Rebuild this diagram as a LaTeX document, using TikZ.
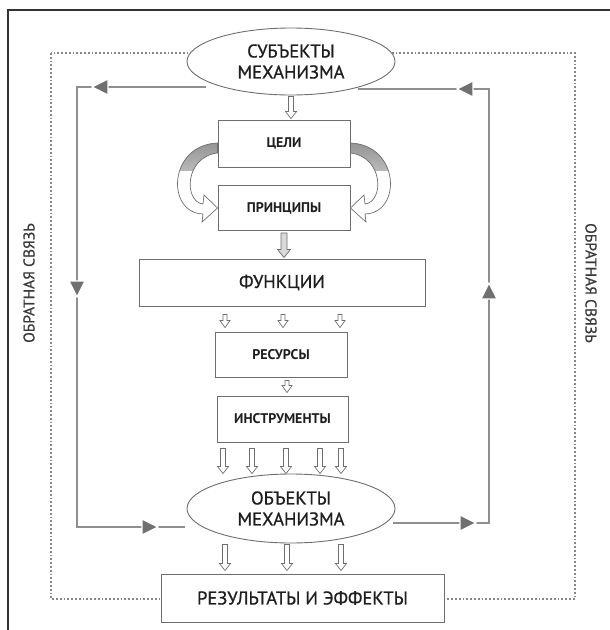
\documentclass[tikz,border=0pt]{standalone}
\usepackage{fontspec}
\setmainfont{PT Sans}
\newfontfamily\medfont{PT Sans}[FakeBold=0.8]
\usetikzlibrary{calc,shapes.geometric}
\definecolor{boxline}{HTML}{6E6E6E}
\definecolor{fbline}{HTML}{8E8E8E}
\definecolor{fbhead}{HTML}{707070}
\definecolor{txt}{HTML}{1E1E1E}
\definecolor{sidetxt}{HTML}{3A3A3A}
\definecolor{dotc}{HTML}{878787}
\definecolor{framec}{HTML}{333333}
\begin{document}
\begin{tikzpicture}[x=1pt,y=-1pt,
  every node/.style={text=txt},
  box/.style={draw=boxline, line width=0.9pt, fill=white, inner sep=0pt},
  smalllbl/.style={font=\fontsize{14}{16}\selectfont\bfseries},
  biglbl/.style={font=\fontsize{18.5}{21}\selectfont\medfont},
  oval/.style={ellipse, draw=boxline, line width=0.9pt, fill=white, inner sep=0pt,
    minimum width=208pt, minimum height=67pt, align=center,
    font=\fontsize{18.5}{21}\selectfont\medfont},
  sidelbl/.style={text=sidetxt, font=\fontsize{15.5}{17}\selectfont\medfont},
  fb/.style={draw=fbline, line width=1.1pt},
  holl/.style={draw=boxline, line width=0.7pt, fill=white},
  ba/.style n args={3}{to path={let \p1=(\tikztostart), \p2=(\tikztotarget) in
    (\x1-#1,\y1) -- (\x1-#1,\y2+#3) -- (\x1-#2,\y2+#3) -- (\x1,\y2)
    -- (\x1+#2,\y2+#3) -- (\x1+#1,\y2+#3) -- (\x1+#1,\y1) -- cycle}},
  fbtri/.style={fill=fbhead, draw=white, line width=1.2pt}
]
\useasboundingbox (0,0) rectangle (610,630);
% page frame
\draw[framec, line width=1.2pt] (8,630) -- (8,10) -- (610,10);
% dotted frame
\draw[dotc, line width=1.8pt, dash pattern=on 1.8pt off 2pt] (51,53) rectangle (575,599);

% nodes
\node[oval] (top) at (291,61.5) {СУБЪЕКТЫ\\МЕХАНИЗМА};
\node[box, smalllbl, minimum width=132pt, minimum height=47pt] (celi) at (284,143.5) {ЦЕЛИ};
\node[box, smalllbl, minimum width=132pt, minimum height=45pt] (princ) at (284,208) {ПРИНЦИПЫ};
\node[box, biglbl, minimum width=286pt, minimum height=47pt] (func) at (282,282.5) {ФУНКЦИИ};
\node[box, smalllbl, minimum width=132pt, minimum height=45pt] (res) at (281,354.5) {РЕСУРСЫ};
\node[box, smalllbl, minimum width=131pt, minimum height=46pt] (instr) at (282.5,419) {ИНСТРУМЕНТЫ};
\node[oval, minimum height=69pt] (obj) at (291,508.5) {ОБЪЕКТЫ\\МЕХАНИЗМА};
\node[box, biglbl, minimum width=283pt, minimum height=48pt] (resl) at (302.5,598) {РЕЗУЛЬТАТЫ И ЭФФЕКТЫ};

\node[sidelbl, rotate=90] (fbl) at (29,283) {ОБРАТНАЯ СВЯЗЬ};
\node[sidelbl, rotate=-90] (fbr) at (591,283) {ОБРАТНАЯ СВЯЗЬ};

% curved arrows ЦЕЛИ -> ПРИНЦИПЫ
\def\leftcurve{(celi.west |- 0,143) .. controls (168,145) and (166,213) .. (203,214)
  -- (202,222) -- (princ.west |- 0,208) -- (204,195) -- (203,204)
  .. controls (184,202) and (184,157) .. (celi.west |- 0,153) -- cycle}
\def\rightcurve{(celi.east |- 0,143) .. controls (400,145) and (402,213) .. (365,214)
  -- (366,222) -- (princ.east |- 0,208) -- (364,195) -- (365,204)
  .. controls (384,202) and (384,157) .. (celi.east |- 0,153) -- cycle}
\fill[white] \leftcurve;
\fill[white] \rightcurve;
\begin{scope}
  \clip (0,140) rectangle (610,170);
  \shade[top color=black!42, bottom color=white] \leftcurve;
  \shade[top color=black!42, bottom color=white] \rightcurve;
\end{scope}
\draw[boxline, line width=0.7pt] \leftcurve;
\draw[boxline, line width=0.7pt] \rightcurve;

% block arrows
\draw[holl, ba={2.5pt}{5.5pt}{7pt}] ($(top.south)+(0,1)$) to ($(celi.north -| top.south)+(0,-1)$);
\draw[holl, fill=black!15, ba={3pt}{6.5pt}{8pt}] ($(princ.south)+(0,2)$) to ($(func.north)+(1,-1)$);
\foreach \dx in {-57,1,58}
  \draw[holl, ba={2pt}{5pt}{7pt}] ($(func.south)+(\dx,8)$) to ($(res.north)+(\dx+1,-4)$);
\draw[holl, ba={2pt}{5pt}{7pt}] ($(res.south)+(6,3)$) to ($(instr.north)+(4.5,-3)$);
\foreach \xx in {223,252,286,320,341}
  \draw[holl, ba={2.5pt}{5.5pt}{7pt}] ($(instr.south -| \xx,0)+(0,6)$) to ($(obj.north -| \xx,0)+(0,0)$);
\foreach \xx in {225,287,341}
  \draw[holl, ba={2.5pt}{5.5pt}{7pt}] ($(obj.south -| \xx,0)+(0,1)$) to ($(resl.north -| \xx,0)+(0,-3)$);

% feedback loops
\coordinate (l0) at (206,87);
\coordinate (l1) at (77,87);
\coordinate (l2) at (77,527);
\coordinate (l3) at (185,527);
\coordinate (r0) at (393,523);
\coordinate (r1) at (489,523);
\coordinate (r2) at (489,89);
\coordinate (r3) at (358,89);
\draw[fb] (l0) -- (l1) -- (l2) -- (l3);
\draw[fb] (r0) -- (r1) -- (r2) -- (r3);
\fill[fbtri, shift={(100,87)}, rotate=180] (8,0) -- (-8,8) -- (-8,-8) -- cycle;
\fill[fbtri, shift={(77,289)}, rotate=-90] (8,0) -- (-8,8) -- (-8,-8) -- cycle;
\fill[fbtri, shift={(150,527)}] (8,0) -- (-8,8) -- (-8,-8) -- cycle;
\fill[fbtri, shift={(468,523)}] (8,0) -- (-8,8) -- (-8,-8) -- cycle;
\fill[fbtri, shift={(489,291)}, rotate=90] (8,0) -- (-8,8) -- (-8,-8) -- cycle;
\fill[fbtri, shift={(465,89)}, rotate=180] (8,0) -- (-8,8) -- (-8,-8) -- cycle;
\end{tikzpicture}
\end{document}
